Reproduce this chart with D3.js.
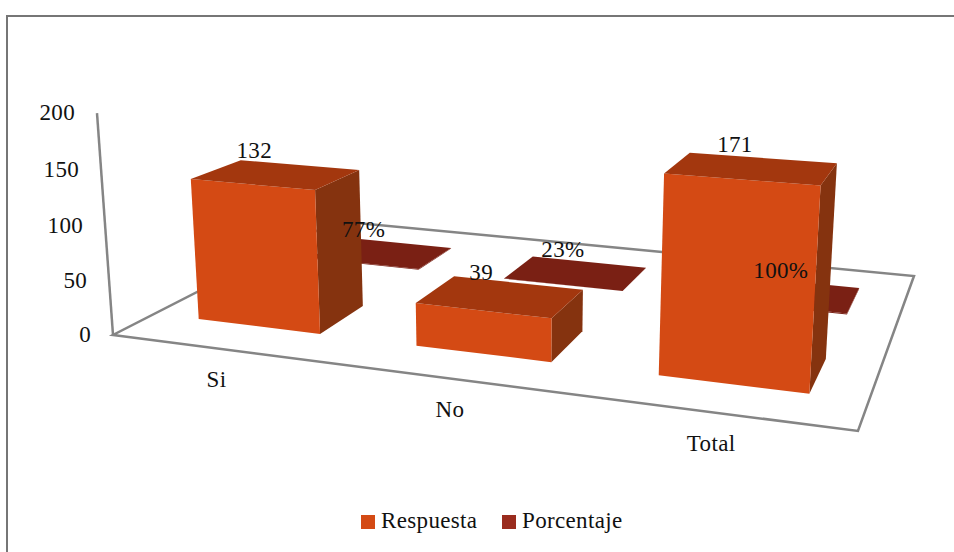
<!DOCTYPE html>
<html>
<head>
<meta charset="utf-8">
<script src="https://cdn.jsdelivr.net/npm/d3@7"></script>
<style>
    html, body { margin: 0; padding: 0; background: #fff; }
    svg { display: block; }
    text { font-family: "Liberation Serif", serif; font-size: 23px; letter-spacing: 0.35px; fill: #111; }
</style>
</head>
<body>
<script>
'use strict';

var categories = ['Si', 'No', 'Total'];
var seriesNames = ['Respuesta', 'Porcentaje'];
var respuesta = [132, 39, 171];
var porcentaje = [0.77, 0.23, 1];
var yTicks = [0, 50, 100, 150, 200];

var width = 954, height = 552;

var svg = d3.select('body').append('svg')
    .attr('width', width)
    .attr('height', height);

// projective camera fitted to the floor corners and the vertical axis
var a = 610.6, b = 325.2, c = 113,
    d = 28.5, e = -46.8, f = 335,
    g = -0.1566, h = 0.3041;
var vanishX = 513, vanishY = 5883;

var uScale = d3.scaleBand().domain(categories).range([0, 1])
    .paddingInner(0.43).paddingOuter(0.215);
var wScale = d3.scaleBand().domain(seriesNames).range([0, 1])
    .paddingInner(0.6).paddingOuter(0.3);
var vScale = d3.scaleLinear().domain([0, 200]).range([0, -0.03846]);

function project(u, w, v) {
    var t = vScale(v);
    var den = g * u + h * w + 1 + t;
    return [
        (a * u + b * w + c + vanishX * t) / den,
        (d * u + e * w + f + vanishY * t) / den
    ];
}

function quad(points) {
    return 'M' + points.map(function(p) {
        return project(p[0], p[1], p[2]).join(',');
    }).join('L') + 'Z';
}

// outer frame, runs off the right and bottom of the picture
svg.append('path')
    .attr('d', d3.line()([[7, height], [7, 16], [width, 16]]))
    .attr('fill', 'none')
    .attr('stroke', '#767676')
    .attr('stroke-width', 2);

// floor and value axis
svg.append('path')
    .attr('d', quad([[0, 0, 0], [1, 0, 0], [1, 1, 0], [0, 1, 0]]))
    .attr('fill', '#fff')
    .attr('stroke', '#858585')
    .attr('stroke-width', 2.5)
    .attr('stroke-linejoin', 'miter');

svg.append('path')
    .attr('d', d3.line()([project(0, 0, 0), project(0, 0, 200)]))
    .attr('fill', 'none')
    .attr('stroke', '#858585')
    .attr('stroke-width', 2.5);

svg.selectAll('.ytick')
    .data(yTicks)
    .enter().append('text')
    .attr('class', 'ytick')
    .attr('text-anchor', 'end')
    .attr('x', function(t) { return project(0, 0, t)[0] - 22; })
    .attr('y', function(t) { return project(0, 0, t)[1] + 7; })
    .text(function(t) { return t; });

svg.selectAll('.xlabel')
    .data(categories)
    .enter().append('text')
    .attr('class', 'xlabel')
    .attr('text-anchor', 'middle')
    .attr('x', function(cat) { return project(uScale(cat) + uScale.bandwidth() / 2, 0, 0)[0] - 4; })
    .attr('y', function(cat) { return project(uScale(cat) + uScale.bandwidth() / 2, 0, 0)[1] + 38; })
    .text(function(cat) { return cat; });

function drawBars(name, values, colors) {
    var w0 = wScale(name),
        w1 = w0 + wScale.bandwidth();

    var bars = svg.append('g').selectAll('g')
        .data(values)
        .enter().append('g');

    function u0(v, i) { return uScale(categories[i]); }
    function u1(v, i) { return u0(v, i) + uScale.bandwidth(); }

    // right side, front, then top
    bars.append('path')
        .attr('fill', colors.side)
        .attr('d', function(v, i) {
            return quad([[u1(v, i), w0, 0], [u1(v, i), w1, 0], [u1(v, i), w1, v], [u1(v, i), w0, v]]);
        });
    bars.append('path')
        .attr('fill', colors.front)
        .attr('d', function(v, i) {
            return quad([[u0(v, i), w0, 0], [u1(v, i), w0, 0], [u1(v, i), w0, v], [u0(v, i), w0, v]]);
        });
    bars.append('path')
        .attr('fill', colors.top)
        .attr('d', function(v, i) {
            return quad([[u0(v, i), w0, v], [u1(v, i), w0, v], [u1(v, i), w1, v], [u0(v, i), w1, v]]);
        });
}

drawBars('Porcentaje', porcentaje, {front: '#7a2014', side: '#7a2014', top: '#7a2014'});
drawBars('Respuesta', respuesta, {front: '#d44a14', side: '#85330f', top: '#a3370e'});

function drawLabels(name, values, format, dx) {
    var w = wScale(name) + wScale.bandwidth() / 2;

    function centre(v, i) {
        return project(uScale(categories[i]) + uScale.bandwidth() / 2, w, v);
    }

    svg.append('g').selectAll('text')
        .data(values)
        .enter().append('text')
        .attr('text-anchor', 'middle')
        .attr('x', function(v, i) { return centre(v, i)[0] + dx(i); })
        .attr('y', function(v, i) { return centre(v, i)[1] - 16; })
        .text(format);
}

// labels drift right along the category axis
drawLabels('Respuesta', respuesta, d3.format('d'), d3.scaleLinear().domain([0, 2]).range([-22, -17]));
drawLabels('Porcentaje', porcentaje, d3.format('.0%'), d3.scaleLinear().domain([0, 2]).range([-18, -8]));

// legend
var legendX = d3.scaleOrdinal().domain(seriesNames).range([361, 502]);
var legendColor = d3.scaleOrdinal().domain(seriesNames).range(['#d44a14', '#9a2c1e']);

var legend = svg.selectAll('.legend')
    .data(seriesNames)
    .enter().append('g')
    .attr('class', 'legend')
    .attr('transform', function(s) { return 'translate(' + legendX(s) + ',515)'; });

legend.append('rect')
    .attr('width', 14)
    .attr('height', 14)
    .attr('fill', function(s) { return legendColor(s); });

legend.append('text')
    .attr('x', 20)
    .attr('y', 13)
    .text(function(s) { return s; });
</script>
</body>
</html>
